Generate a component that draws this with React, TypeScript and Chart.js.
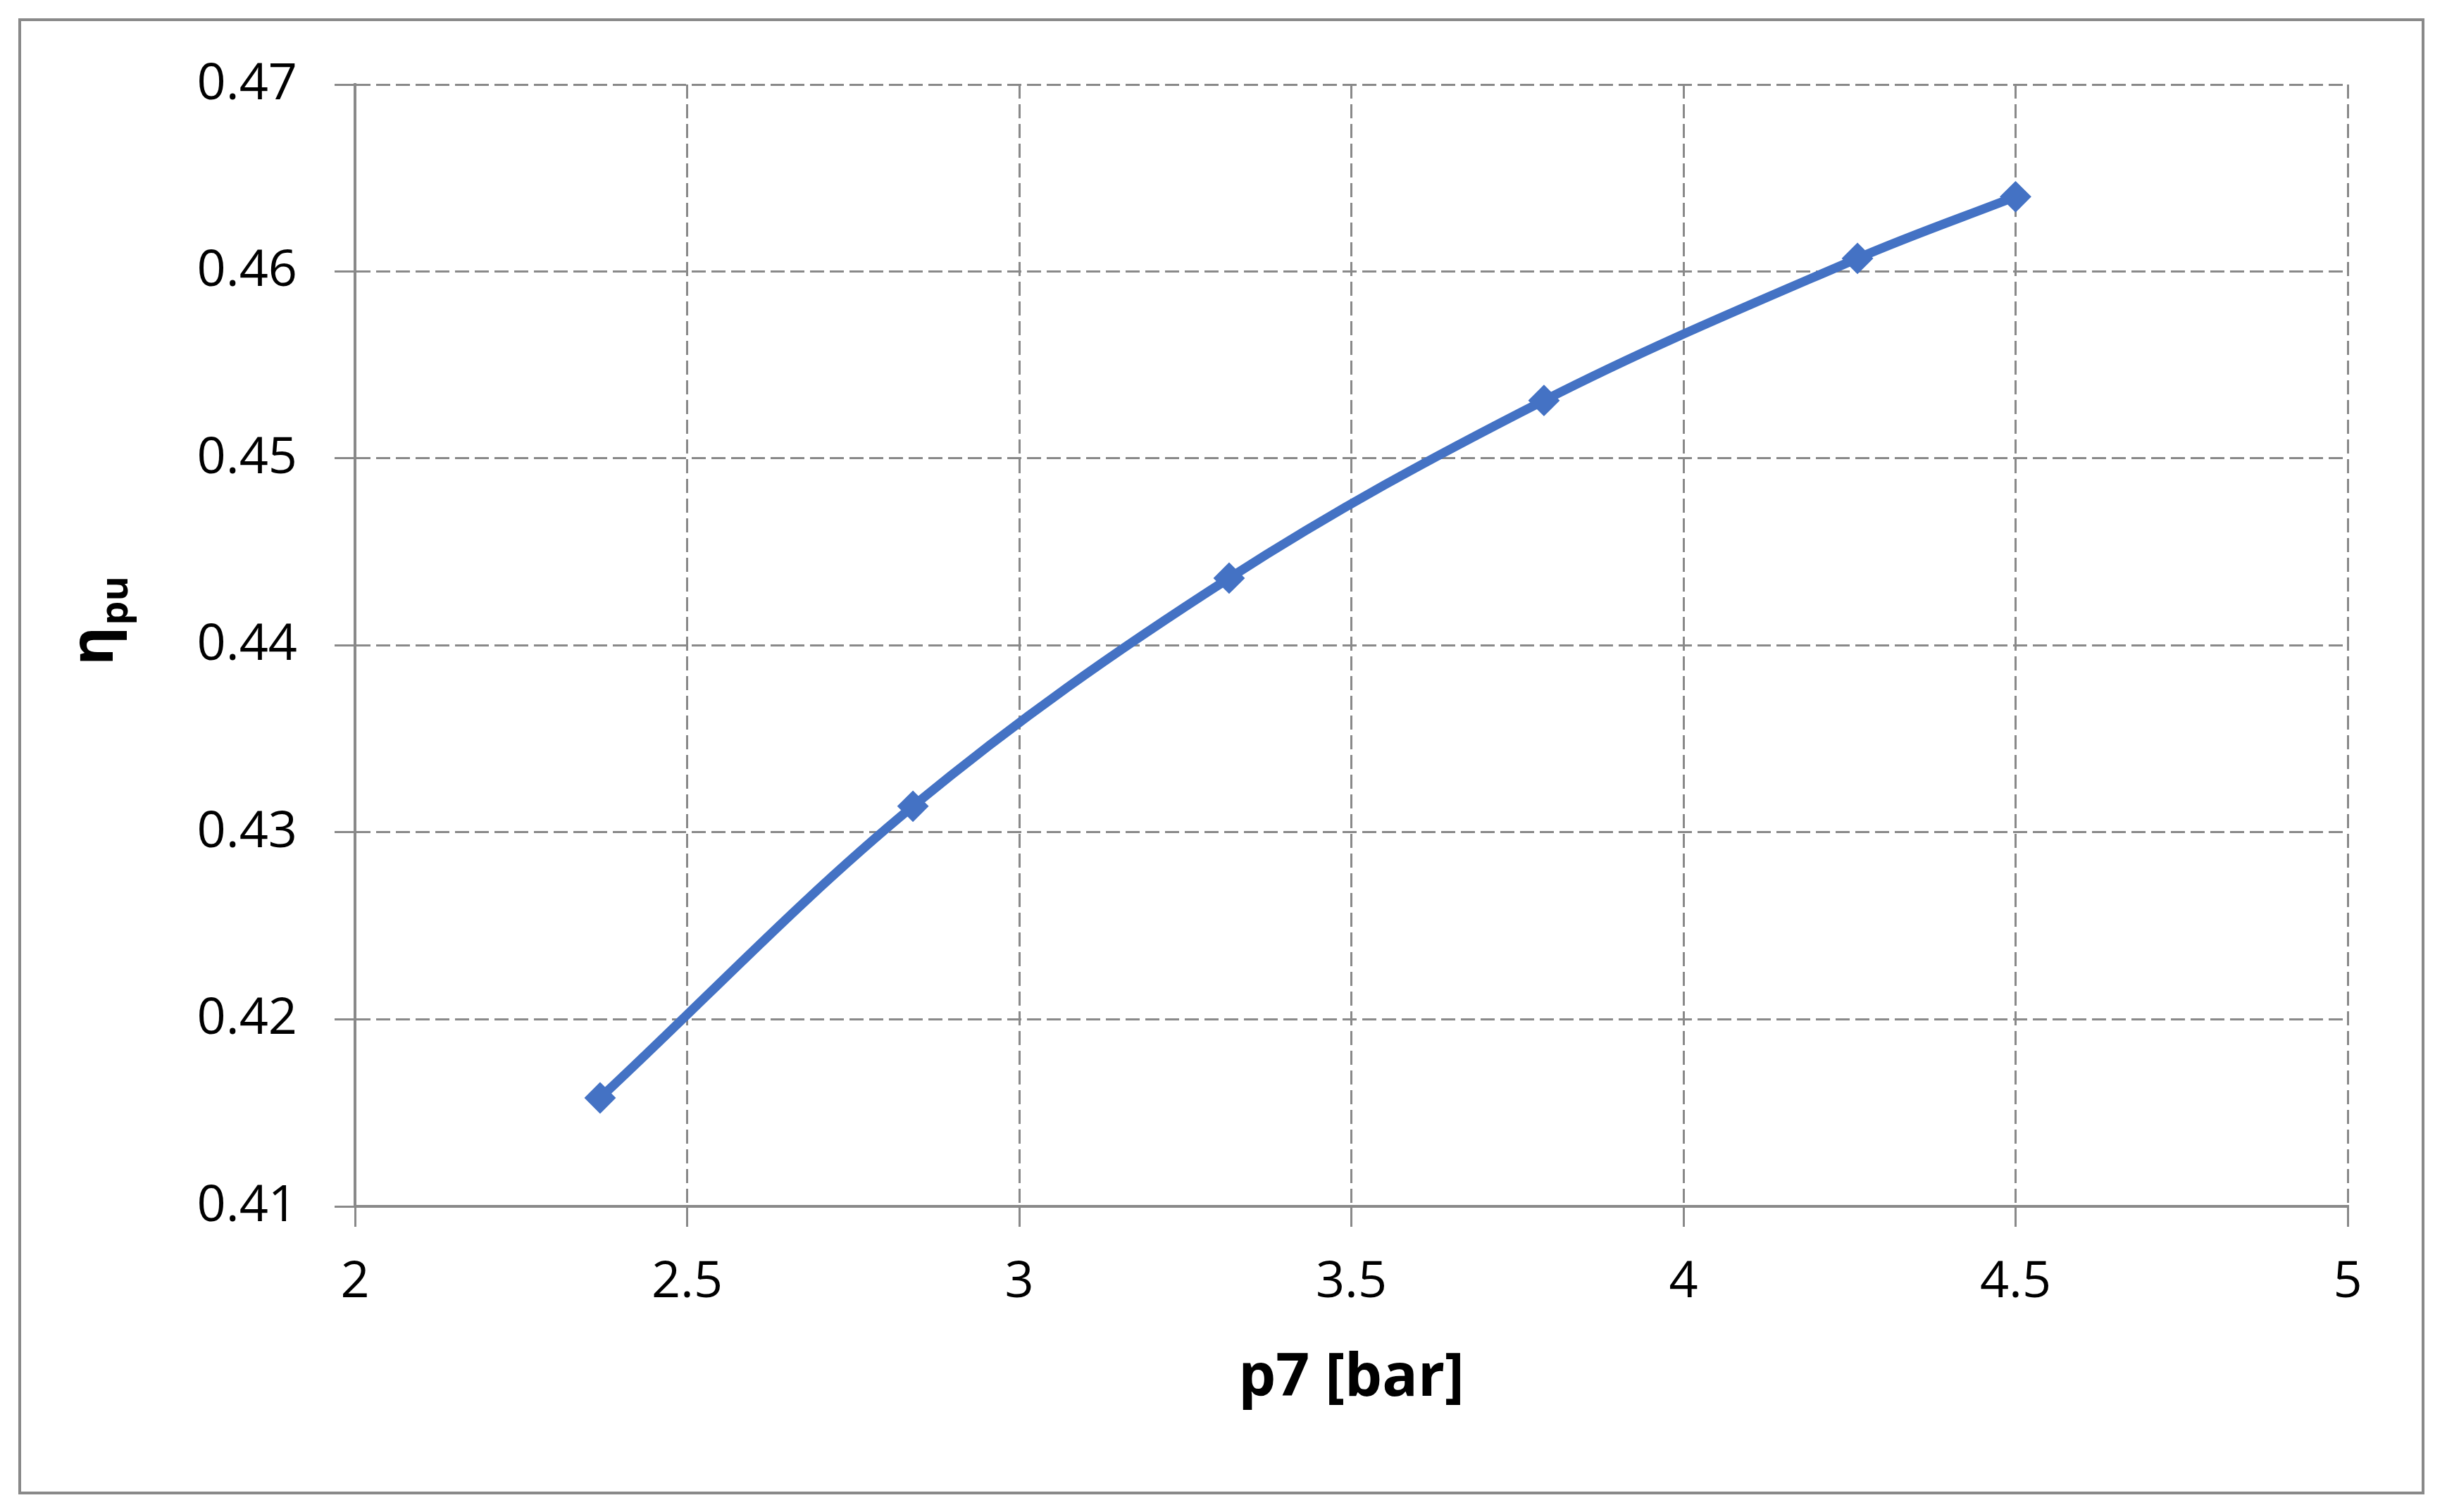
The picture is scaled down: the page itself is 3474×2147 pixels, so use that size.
import React, { useEffect, useRef } from 'react';
import { Chart, registerables } from 'chart.js';

Chart.register(...registerables);

// ---- data ----
const pressureBar = [2.369, 2.84, 3.316, 3.79, 4.262, 4.5];
const efficiencyPu = [0.4158, 0.4314, 0.4436, 0.4531, 0.4607, 0.464];
const xTickValues = [2, 2.5, 3, 3.5, 4, 4.5, 5];
const yTickValues = [0.41, 0.42, 0.43, 0.44, 0.45, 0.46, 0.47];
const xTitle = 'p7 [bar]';
const yTitleMain = 'η';
const yTitleSub = 'pu';

const W = 3474;
const H = 2147;
const FONT = "'Open Sans', 'Liberation Sans', sans-serif";
const GRID = '#898989';
const LINE = '#4472C4';

const titlesPlugin = {
  id: 'axisTitles',
  afterDraw(chart: any) {
    const { ctx, chartArea } = chart;
    ctx.save();
    ctx.fillStyle = '#000';
    ctx.font = `bold 84px ${FONT}`;
    ctx.textAlign = 'center';
    ctx.textBaseline = 'middle';
    ctx.fillText(xTitle, (chartArea.left + chartArea.right) / 2, 1958);

    ctx.translate(160, 945);
    ctx.rotate(-Math.PI / 2);
    ctx.textAlign = 'left';
    ctx.textBaseline = 'alphabetic';
    ctx.font = `bold 84px ${FONT}`;
    ctx.fillText(yTitleMain, 0, 0);
    const w = ctx.measureText(yTitleMain).width;
    ctx.font = `bold 54px ${FONT}`;
    ctx.fillText(yTitleSub, w + 2, 21);
    ctx.restore();
  },
};

export default function App() {
  const ref = useRef<HTMLCanvasElement | null>(null);

  useEffect(() => {
    if (!ref.current) return;
    const tickFont = { family: FONT, size: 72 };
    const chart = new Chart(ref.current, {
      type: 'line',
      data: {
        datasets: [
          {
            data: pressureBar.map((x, i) => ({ x, y: efficiencyPu[i] })),
            borderColor: LINE,
            backgroundColor: LINE,
            borderWidth: 13,
            tension: 0.35,
            pointStyle: 'rectRot',
            pointRadius: 21,
            pointBorderWidth: 2,
            pointBorderColor: LINE,
            pointBackgroundColor: LINE,
            fill: false,
          },
        ],
      },
      options: {
        responsive: false,
        animation: false,
        devicePixelRatio: 1,
        layout: { padding: { left: 0, right: W - 3333, top: 120, bottom: 0 } },
        plugins: { legend: { display: false }, tooltip: { enabled: false } },
        scales: {
          x: {
            type: 'linear',
            min: 2,
            max: 5,
            afterBuildTicks: (s: any) => {
              s.ticks = xTickValues.map((v) => ({ value: v }));
            },
            afterFit: (s: any) => {
              s.height = H - 1713;
            },
            ticks: {
              font: tickFont,
              color: '#000',
              padding: 36,
              callback: (v: any) => String(Number(v)),
            },
            grid: {
              color: GRID,
              lineWidth: 3,
              tickLength: 29,
              tickColor: GRID,
              tickWidth: 3,
            },
            border: { display: true, color: GRID, width: 4, dash: [20, 8] },
          },
          y: {
            type: 'linear',
            min: 0.41,
            max: 0.47,
            afterBuildTicks: (s: any) => {
              s.ticks = yTickValues.map((v) => ({ value: v }));
            },
            afterFit: (s: any) => {
              s.width = 504;
            },
            ticks: {
              font: tickFont,
              color: '#000',
              padding: 53,
              callback: (v: any) => Number(v).toFixed(2),
            },
            grid: {
              color: GRID,
              lineWidth: 3,
              tickLength: 29,
              tickColor: GRID,
              tickWidth: 3,
            },
            border: { display: true, color: GRID, width: 4, dash: [20, 8] },
          },
        },
      },
      plugins: [titlesPlugin],
    } as any);
    return () => chart.destroy();
  }, []);

  return (
    <div
      style={{
        position: 'absolute',
        left: 0,
        top: 0,
        width: W,
        height: H,
        background: '#fff',
        overflow: 'hidden',
      }}
    >
      <div
        style={{
          position: 'absolute',
          left: 26,
          top: 26,
          width: 3416,
          height: 2096,
          border: '4px solid #898989',
          boxSizing: 'border-box',
        }}
      />
      <canvas
        ref={ref}
        width={W}
        height={H}
        style={{ position: 'absolute', left: 0, top: 0, width: W, height: H }}
      />
    </div>
  );
}
